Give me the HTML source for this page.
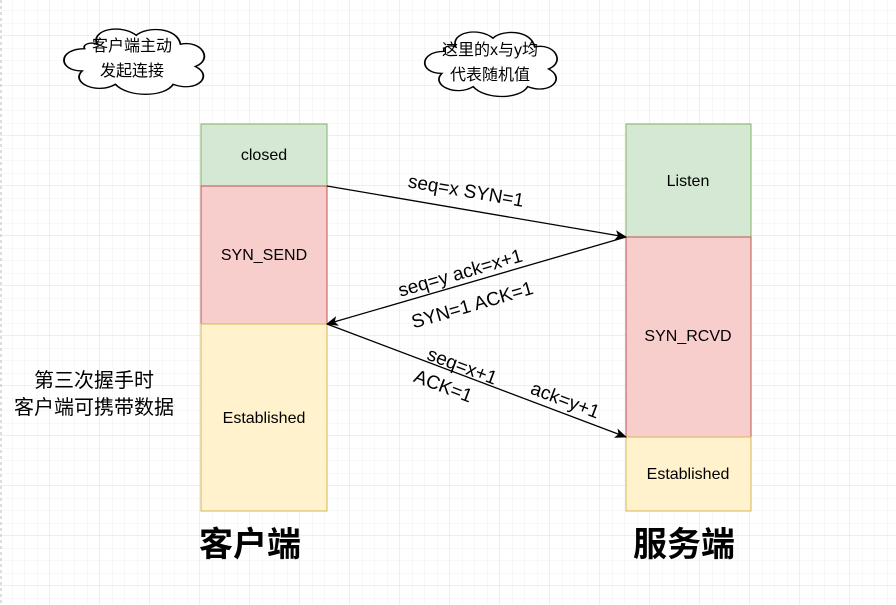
<!DOCTYPE html>
<html><head><meta charset="utf-8"><style>
body{margin:0;width:896px;height:605px;overflow:hidden;background:#fff;font-family:"Liberation Sans","Noto Sans CJK SC",sans-serif;}
</style></head><body>
<svg width="896" height="605" xmlns="http://www.w3.org/2000/svg" style="position:absolute;left:0;top:0">
<defs>
<pattern id="mn" width="12.5" height="12.5" patternUnits="userSpaceOnUse" x="0" y="-1.5"><path d="M12.5 0V12.5M0 12.5H12.5" stroke="#f0f0f0" stroke-width="1" fill="none"/></pattern>
<pattern id="mj" width="50" height="50" patternUnits="userSpaceOnUse" x="0" y="-14"><path d="M50 0V50M0 50H50" stroke="#dedede" stroke-width="1" fill="none"/></pattern>
<marker id="ar" markerWidth="12" markerHeight="10" refX="11" refY="5" orient="auto" markerUnits="userSpaceOnUse"><path d="M0 0L12 5L0 10L3 5Z" fill="#000"/></marker>
</defs>
<rect width="896" height="605" fill="url(#mn)"/>
<rect width="896" height="605" fill="url(#mj)"/>
<line x1="1" y1="0" x2="1" y2="605" stroke="#bbb" stroke-dasharray="3,3"/>
<g font-size="16" fill="#000" text-anchor="middle">
<!-- client -->
<rect x="201" y="124" width="126" height="62" fill="#d5e8d4" stroke="#82b366"/>
<rect x="201" y="186" width="126" height="138" fill="#f8cecc" stroke="#b85450"/>
<rect x="201" y="324" width="126" height="187" fill="#fff2cc" stroke="#d6b656"/>
<text x="264" y="160">closed</text>
<text x="264" y="260">SYN_SEND</text>
<text x="264" y="423">Established</text>
<!-- server -->
<rect x="626" y="124" width="125" height="113" fill="#d5e8d4" stroke="#82b366"/>
<rect x="626" y="237" width="125" height="200" fill="#f8cecc" stroke="#b85450"/>
<rect x="626" y="437" width="125" height="74" fill="#fff2cc" stroke="#d6b656"/>
<text x="688" y="186">Listen</text>
<text x="688" y="341">SYN_RCVD</text>
<text x="688" y="479">Established</text>
</g>
<g stroke="#000" stroke-width="1.3" fill="none">
<line x1="327" y1="186" x2="626" y2="237" marker-end="url(#ar)"/>
<line x1="626" y1="237" x2="327" y2="324" marker-end="url(#ar)"/>
<line x1="327" y1="324" x2="626" y2="437" marker-end="url(#ar)"/>
</g>
<g font-size="19" fill="#000" text-anchor="middle">
<text transform="translate(465,197) rotate(9.7)">seq=x  SYN=1</text>
<text transform="translate(462,279) rotate(-16.2)">seq=y   ack=x+1</text>
<text transform="translate(474,311) rotate(-16.2)">SYN=1   ACK=1</text>
<text transform="translate(460,372) rotate(20.7)">seq=x+1</text>
<text transform="translate(441,392) rotate(20.7)">ACK=1</text>
<text transform="translate(563,406) rotate(20.7)">ack=y+1</text>
</g>
<!-- clouds -->
<g fill="#fff" stroke="#000" stroke-width="1.5">
<path transform="translate(60,22) scale(1.23,0.89)" d="M20 30 C-2 30 -2 55 18 55 C8 68 30 82 45 70 C55 85 85 85 92 70 C112 80 125 60 110 50 C125 42 115 20 98 25 C95 5 70 5 62 15 C50 2 25 8 30 25 C25 22 18 25 20 30Z"/>
<path transform="translate(421,25) scale(1.16,0.88)" d="M20 30 C-2 30 -2 55 18 55 C8 68 30 82 45 70 C55 85 85 85 92 70 C112 80 125 60 110 50 C125 42 115 20 98 25 C95 5 70 5 62 15 C50 2 25 8 30 25 C25 22 18 25 20 30Z"/>
</g>
<g font-size="16" fill="#000" text-anchor="middle">
<text x="132" y="51">客户端主动</text>
<text x="132" y="76">发起连接</text>
<text x="490" y="55">这里的x与y均</text>
<text x="490" y="80">代表随机值</text>
</g>
<g font-size="20" fill="#000" text-anchor="middle">
<text x="94" y="387">第三次握手时</text>
<text x="94" y="414">客户端可携带数据</text>
</g>
<g font-size="34" font-weight="bold" fill="#000" text-anchor="middle">
<text x="250" y="556">客户端</text>
<text x="684" y="556">服务端</text>
</g>
</svg>
</body></html>
